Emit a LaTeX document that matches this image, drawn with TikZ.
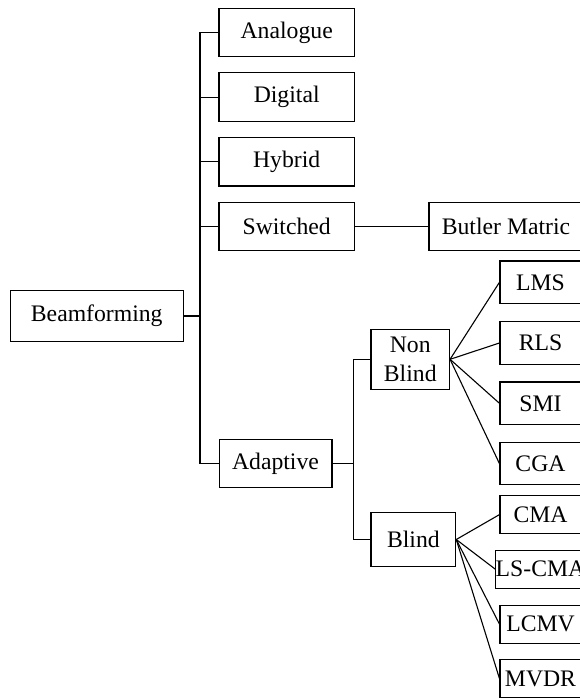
\documentclass[tikz,border=0pt]{standalone}
\usepackage{fontspec}
\setmainfont{Liberation Serif}
\begin{document}
\begin{tikzpicture}[x=1pt,y=-1pt,
  box/.style={draw, line width=1.1pt, inner sep=0pt, align=center,
    font=\fontsize{23.7}{29.6}\selectfont},
  conn/.style={line width=1.1pt}]
\useasboundingbox (0,0) rectangle (580,698);
\clip (0,0) rectangle (580,698);
% level 0
\node[box, minimum width=172.7pt, minimum height=50.3pt] (beam) at (96.75,316) {Beamforming};
% level 1
\node[box, minimum width=135.4pt, minimum height=48.5pt] (analogue) at (286.7,32.4) {Analogue};
\node[box, minimum width=135.4pt, minimum height=48.5pt] (digital) at (286.7,97.1) {Digital};
\node[box, minimum width=135.4pt, minimum height=48.5pt] (hybrid) at (286.7,161.7) {Hybrid};
\node[box, minimum width=135.4pt, minimum height=48.5pt] (switched) at (286.7,226.6) {Switched};
\node[box, minimum width=112.9pt, minimum height=47.3pt] (adaptive) at (275.5,463.5) {Adaptive};
\node[box, minimum width=154pt, minimum height=48.5pt] (butler) at (506,226.6) {Butler Matric};
% level 2
\node[box, minimum width=78.5pt, minimum height=59.9pt] (nonblind) at (410.25,359.3) {Non\\Blind};
\node[box, minimum width=84.7pt, minimum height=54pt] (blind) at (413.35,539.5) {Blind};
% level 3
\node[box, minimum width=81pt, minimum height=42.6pt] (lms) at (540.5,282.3) {LMS};
\node[box, minimum width=81pt, minimum height=42.6pt] (rls) at (540.5,343) {RLS};
\node[box, minimum width=81pt, minimum height=42.6pt] (smi) at (540.5,403.3) {SMI};
\node[box, minimum width=81pt, minimum height=42.6pt] (cga) at (540.5,463.6) {CGA};
\node[box, minimum width=81pt, minimum height=38pt] (cma) at (540.5,514.6) {CMA};
\node[box, minimum width=81pt, minimum height=38pt] (lscma) at (540.5,569.1) {LS-CMA};
\node[box, minimum width=81pt, minimum height=38pt] (lcmv) at (540.5,624.1) {LCMV};
\node[box, minimum width=81pt, minimum height=38pt] (mvdr) at (540.5,678.5) {MVDR};
% trunks
\coordinate (tr1) at (200,0);
\coordinate (tr2) at (353.3,0);
\draw[conn] (beam.east) -- (beam.east -| tr1);
\draw[conn] (analogue.west) -- (analogue.west -| tr1) -- (tr1 |- adaptive.west) -- (adaptive.west);
\draw[conn] (digital.west) -- (digital.west -| tr1);
\draw[conn] (hybrid.west) -- (hybrid.west -| tr1);
\draw[conn] (switched.west) -- (switched.west -| tr1);
\draw[conn] (switched.east) -- (butler.west);
\draw[conn] (adaptive.east) -- (adaptive.east -| tr2);
\draw[conn] (nonblind.west) -- (nonblind.west -| tr2) -- (tr2 |- blind.west) -- (blind.west);
% fans
\foreach \t in {lms,rls,smi,cga} \draw[conn] (nonblind.east) -- (\t.west);
\foreach \t in {cma,lscma,lcmv,mvdr} \draw[conn] (blind.east) -- (\t.west);
\end{tikzpicture}
\end{document}
